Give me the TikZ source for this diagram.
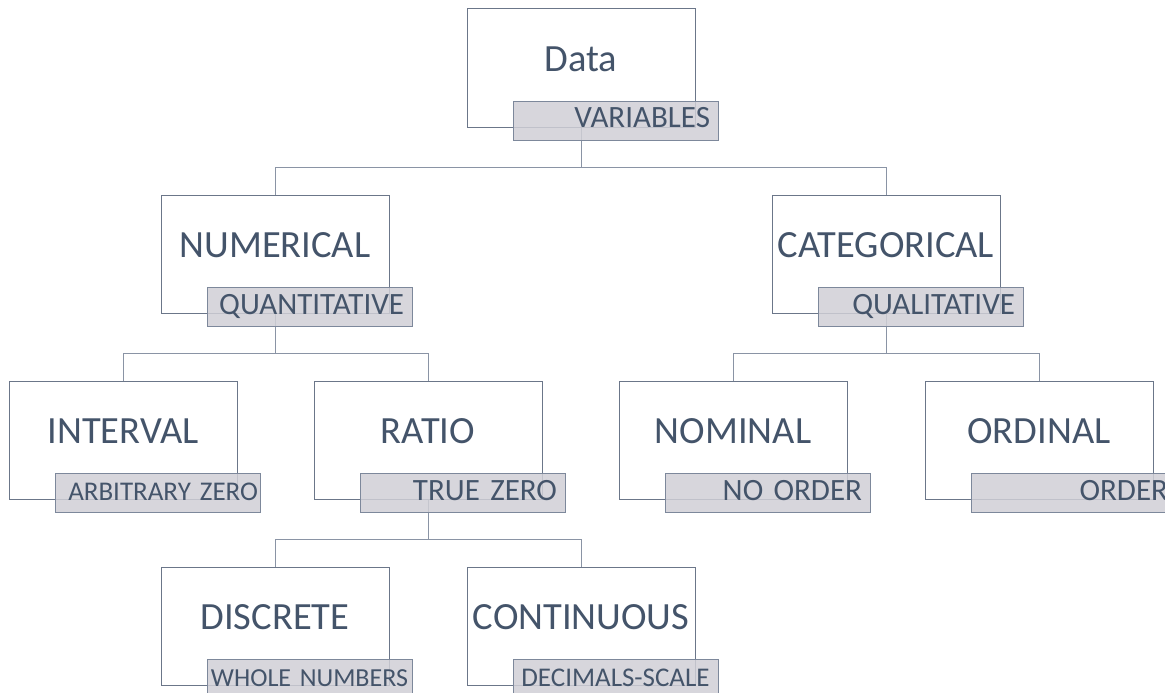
\documentclass[tikz,border=0pt]{standalone}
\usepackage{fontspec}
\setmainfont{Carlito}
\usetikzlibrary{calc}
\definecolor{txt}{HTML}{44546A}
\definecolor{boxline}{HTML}{6B7689}
\definecolor{tagfill}{HTML}{D0CFD6}
\definecolor{tagline}{HTML}{7D889B}
\definecolor{conn}{HTML}{8A94A5}
\begin{document}
\begin{tikzpicture}[x=1pt,y=-1pt,
  mainbox/.style={draw=boxline, line width=1pt, minimum width=228pt, minimum height=118pt,
    inner sep=0pt, text=txt, font=\fontsize{38.5}{40}\selectfont, text height=10pt, text depth=4pt},
  tagbox/.style={draw=tagline, line width=1pt, fill=tagfill, fill opacity=0.85, text opacity=1,
    minimum width=205pt, minimum height=39pt, inner xsep=0pt, inner ysep=0pt,
    text width=189pt, align=right, text=txt, font=\fontsize{31}{33}\selectfont,
    text height=20pt, text depth=5pt, anchor=north west},
  tighttag/.style={text width=201pt, align=center},
  link/.style={draw=conn, line width=1pt}]
\useasboundingbox (0,0) rectangle (1165,693);
\clip (0,0) rectangle (1165,693);
% boxes
\node[mainbox] (data)  at (581,68)  {Data};
\node[mainbox] (num)   at (275,254) {NUMERICAL};
\node[mainbox] (cat)   at (886,254) {CATEGORICAL};
\node[mainbox] (int)   at (123,440) {INTERVAL};
\node[mainbox] (ratio) at (428,440) {RATIO};
\node[mainbox] (nom)   at (733,440) {NOMINAL};
\node[mainbox] (ord)   at (1039,440) {ORDINAL};
\node[mainbox] (disc)  at (275,626) {DISCRETE};
\node[mainbox] (cont)  at (581,626) {CONTINUOUS};
% connectors
\draw[link] (data.south) -- ++(0,40) -| (num.north);
\draw[link] (data.south) -- ++(0,40) -| (cat.north);
\draw[link] (num.south) -- ++(0,40) -| (int.north);
\draw[link] (num.south) -- ++(0,40) -| (ratio.north);
\draw[link] (cat.south) -- ++(0,40) -| (nom.north);
\draw[link] (cat.south) -- ++(0,40) -| (ord.north);
\draw[link] (ratio.south) -- ++(0,40) -| (disc.north);
\draw[link] (ratio.south) -- ++(0,40) -| (cont.north);
% tags
\node[tagbox] (data-t)  at ($(data.north west)+(46,92)$)  {VARIABLES};
\node[tagbox] (num-t)   at ($(num.north west)+(46,92)$)   {QUANTITATIVE};
\node[tagbox] (cat-t)   at ($(cat.north west)+(46,92)$)   {QUALITATIVE};
\node[tagbox, tighttag, font=\fontsize{27}{29}\selectfont] (int-t) at ($(int.north west)+(46,92)$) {\hfill ARBITRARY ZERO};
\node[tagbox] (ratio-t) at ($(ratio.north west)+(46,92)$) {TRUE ZERO};
\node[tagbox] (nom-t)   at ($(nom.north west)+(46,92)$)   {NO ORDER};
\node[tagbox] (ord-t)   at ($(ord.north west)+(46,92)$)   {ORDER};
\node[tagbox, tighttag, font=\fontsize{26}{28}\selectfont] (disc-t) at ($(disc.north west)+(46,92)$) {WHOLE NUMBERS};
\node[tagbox, tighttag, font=\fontsize{27}{29}\selectfont] (cont-t) at ($(cont.north west)+(46,92)$) {DECIMALS-SCALE};
\end{tikzpicture}
\end{document}
